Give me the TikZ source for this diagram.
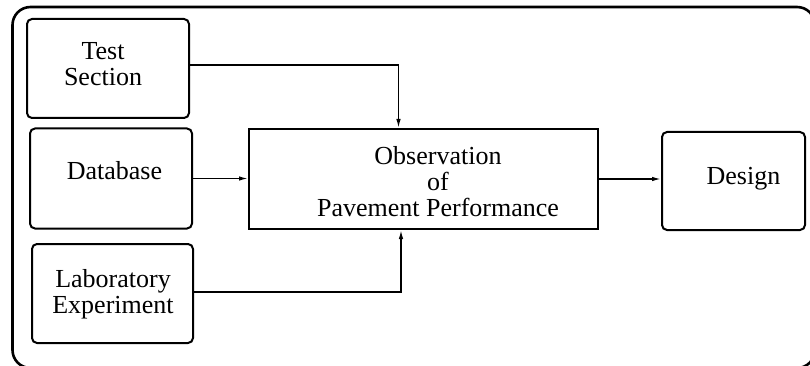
\documentclass[tikz,border=0pt]{standalone}
\usepackage{fontspec}
\setmainfont{Liberation Serif}
\usetikzlibrary{arrows.meta}
\begin{document}
\begin{tikzpicture}[x=1pt,y=-1pt,
  box/.style={draw, line width=2pt, rounded corners=5pt, inner sep=0pt},
  mainbox/.style={draw, line width=2pt, inner sep=0pt},
  txt/.style={align=center, inner sep=0pt, font=\fontsize{26}{26}\selectfont},
  arr/.style={line width=1.4pt, -{Latex[length=9pt,width=4.5pt]}}]
\useasboundingbox (0,0) rectangle (810,366);
% outer frame (partly cut by the page edge)
\draw[line width=2.6pt, rounded corners=18pt] (12.5,7) rectangle (815,368);
% boxes
\node[box, minimum width=162pt, minimum height=99pt] (ts) at (108,68.5) {};
\node[box, minimum width=162pt, minimum height=100pt] (db) at (111,178.5) {};
\node[box, minimum width=161pt, minimum height=99pt] (lab) at (112.5,293.5) {};
\node[mainbox, minimum width=349pt, minimum height=100pt] (obs) at (423.5,179) {};
\node[box, minimum width=143pt, minimum height=98pt] (des) at (733.5,181) {};
% texts
\node[txt] (tstxt) at (103,64) {Test\\Section};
\node[txt] (dbtxt) at (114.5,171) {Database};
\node[txt] (labtxt) at (113,294) {Laboratory\\Experiment};
\node[txt] (obstxt) at (438,182) {Observation\\of\\Pavement Performance};
\node[txt] (destxt) at (743.5,179) {Design};
% connectors
\coordinate (t1) at (398.5,65);
\coordinate (l1) at (401,292);
\draw[arr] (t1 -| ts.east) -- (t1) -- (t1 |- obs.north);
\draw[arr] (db.east) -- (db.east -| obs.west);
\draw[arr] (l1 -| lab.east) -- (l1) -- (l1 |- obs.south);
\draw[arr] (obs.east) -- (obs.east -| des.west);
\end{tikzpicture}
\end{document}
